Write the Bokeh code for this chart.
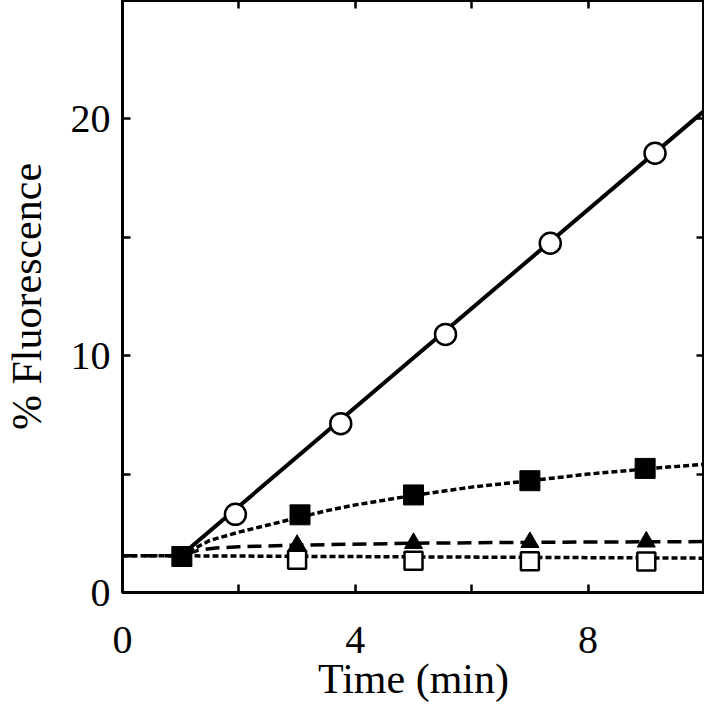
from bokeh.plotting import figure
from bokeh.models import Range1d, FixedTicker, LinearAxis
from bokeh.embed import file_html
from bokeh.resources import INLINE

# ---- data ----
circle_x = [1.94, 3.75, 5.55, 7.35, 9.15]
circle_y = [3.3, 7.13, 10.9, 14.75, 18.55]
circle_fit_x = [1.0, 10.0]
circle_fit_y = [1.55, 20.35]

fsq_x = [1.02, 3.05, 5.0, 7.0, 8.98]
fsq_y = [1.52, 3.28, 4.12, 4.72, 5.24]
fsq_fit_x = [1.0, 1.5, 2.0, 2.5, 3.0, 3.5, 4.0, 4.5, 5.0, 6.0, 7.0, 8.0, 9.0, 10.0]
fsq_fit_y = [1.55, 2.2, 2.55, 2.85, 3.15, 3.45, 3.7, 3.9, 4.1, 4.45, 4.72, 5.0, 5.22, 5.42]

tri_x = [3.0, 5.0, 7.0, 9.0]
tri_y = [2.0, 2.08, 2.12, 2.14]
tri_fit_x = [0.0, 1.0, 1.3, 1.6, 2.0, 3.0, 5.0, 7.0, 10.0]
tri_fit_y = [1.55, 1.55, 1.78, 1.88, 1.93, 2.0, 2.08, 2.12, 2.15]

osq_x = [3.0, 5.0, 7.0, 9.0]
osq_y = [1.38, 1.34, 1.32, 1.31]
osq_fit_x = [0.0, 1.0, 10.0]
osq_fit_y = [1.55, 1.55, 1.45]

x_major = [0, 4, 8]
x_minor = [2, 6]
y_major = [0, 10, 20]
y_minor = [5, 15]

FONT = "Liberation Serif"

p = figure(width=704, height=704, output_backend="svg", toolbar_location=None,
           x_range=Range1d(0, 10), y_range=Range1d(0, 25),
           min_border_left=113, min_border_right=0, min_border_top=0, min_border_bottom=110,
           x_axis_label="Time (min)", y_axis_label="% Fluorescence")
p.grid.visible = False
p.outline_line_color = "black"
p.outline_line_width = 3
p.background_fill_color = "white"
p.border_fill_color = "white"

def style_axis(ax):
    ax.axis_line_width = 3
    ax.axis_line_color = "black"
    ax.major_tick_in = 8
    ax.major_tick_out = 0
    ax.minor_tick_in = 8
    ax.minor_tick_out = 0
    ax.major_tick_line_width = 2.5
    ax.minor_tick_line_width = 2.5
    ax.major_tick_line_color = "black"
    ax.minor_tick_line_color = "black"
    ax.major_label_text_font = FONT
    ax.major_label_text_font_size = "40px"
    ax.major_label_text_color = "black"
    ax.axis_label_text_font = FONT
    ax.axis_label_text_font_size = "42px"
    ax.axis_label_text_font_style = "normal"
    ax.axis_label_text_color = "black"

xa = p.xaxis[0]
xa.ticker = FixedTicker(ticks=x_major, minor_ticks=x_minor)
style_axis(xa)
xa.major_label_standoff = 34
xa.axis_label_standoff = 0

ya = p.yaxis[0]
ya.ticker = FixedTicker(ticks=y_major, minor_ticks=y_minor)
style_axis(ya)
ya.major_label_standoff = 12
ya.axis_label_standoff = 18

top = LinearAxis(ticker=FixedTicker(ticks=[], minor_ticks=x_major[1:] + x_minor))
style_axis(top)
top.major_label_standoff = 0
top.axis_label_standoff = 0
top.major_label_text_font_size = "0px"
top.axis_label_text_font_size = "0px"
p.add_layout(top, "above")
right = LinearAxis(ticker=FixedTicker(ticks=[], minor_ticks=y_major[1:] + y_minor))
style_axis(right)
right.major_label_standoff = 0
right.axis_label_standoff = 0
right.major_label_text_font_size = "0px"
right.axis_label_text_font_size = "0px"
p.add_layout(right, "right")

# fit lines
p.line(osq_fit_x, osq_fit_y, line_color="black", line_width=3.5, line_dash="6 3")
p.line(tri_fit_x, tri_fit_y, line_color="black", line_width=3.5, line_dash="14 7")
p.line(fsq_fit_x, fsq_fit_y, line_color="black", line_width=3.5, line_dash="6 3")
p.line(circle_fit_x, circle_fit_y, line_color="black", line_width=4)

# markers
p.scatter(osq_x, osq_y, marker="square", size=18, fill_color="white",
          line_color="black", line_width=2.5)
p.scatter(tri_x, tri_y, marker="triangle", size=18, fill_color="black",
          line_color="black", line_width=1)
p.scatter(fsq_x, fsq_y, marker="square", size=20, fill_color="black",
          line_color="black", line_width=1)
p.scatter(circle_x, circle_y, marker="circle", size=21, fill_color="white",
          line_color="black", line_width=2.5)

open("out.html", "w").write(file_html(p, INLINE))
